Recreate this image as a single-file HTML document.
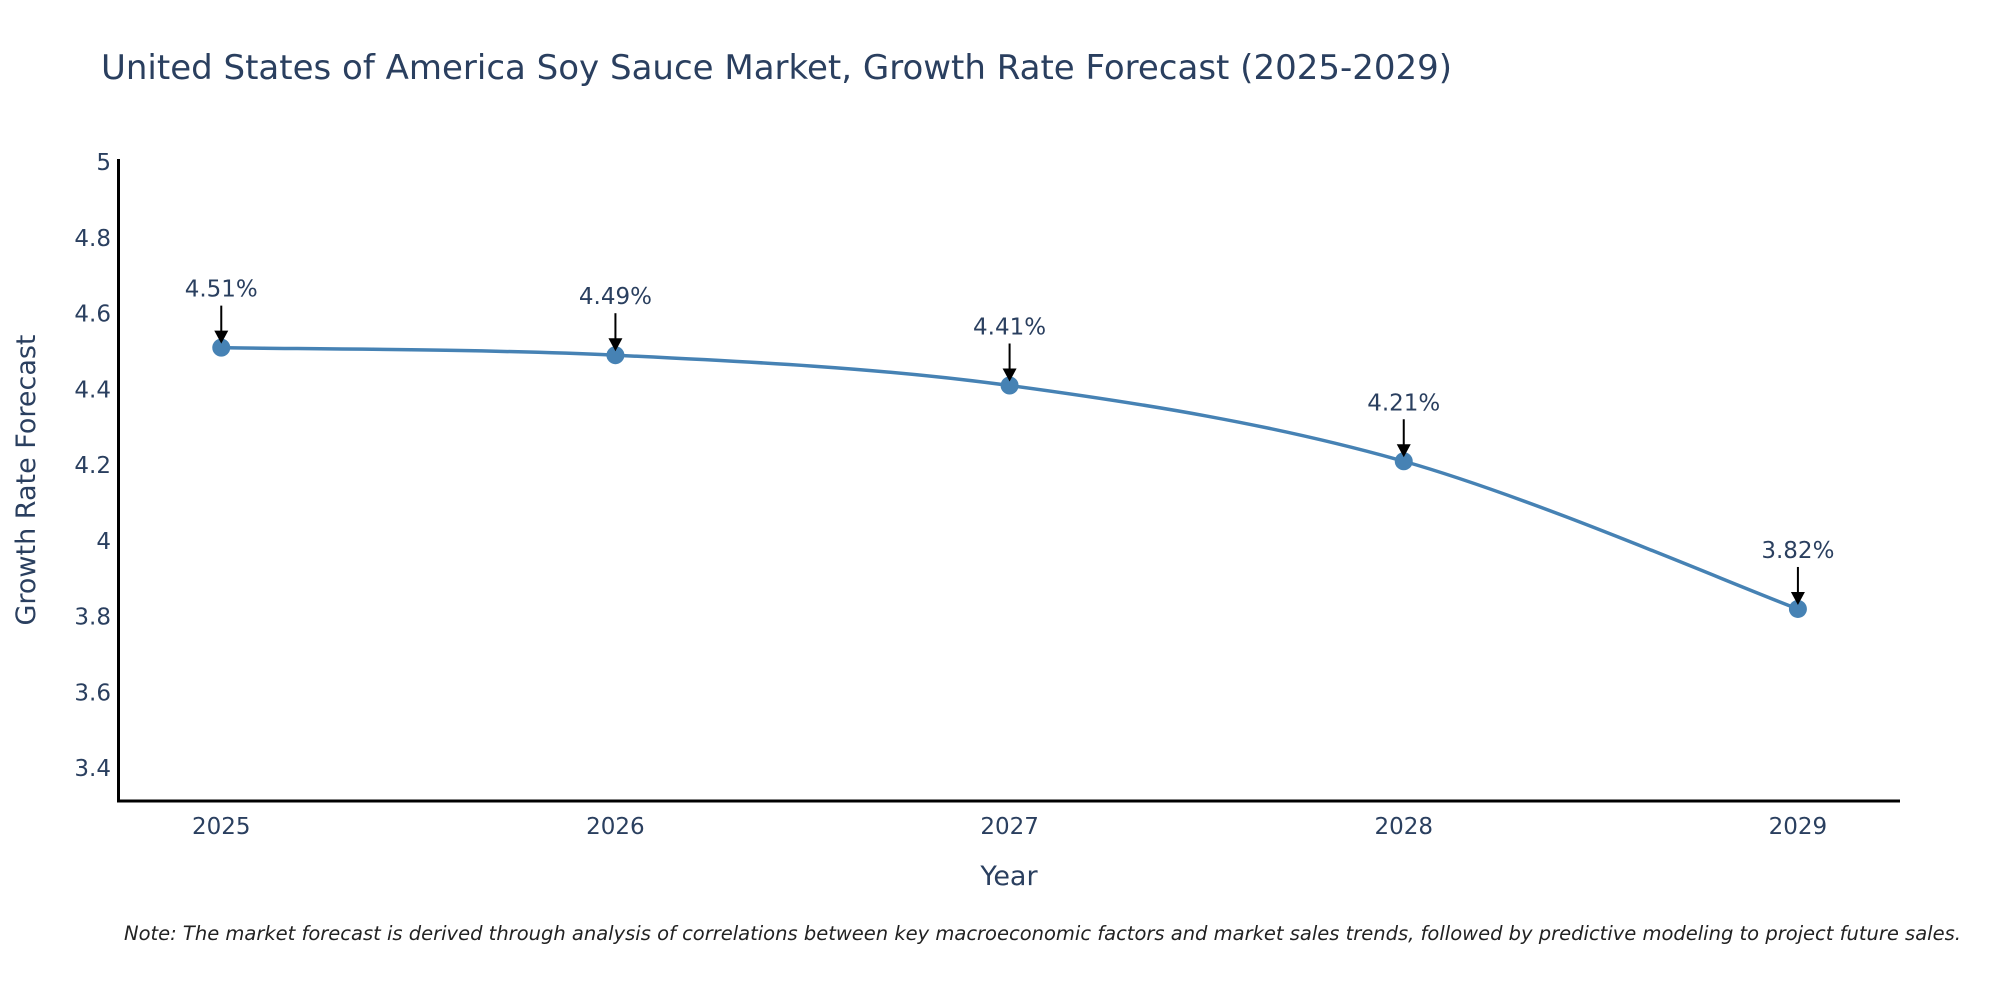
<!DOCTYPE html>
<html><head><meta charset="utf-8"><style>
html,body{margin:0;padding:0;background:#fff;}
svg text{font-family:"DejaVu Sans","Liberation Sans",sans-serif;fill:#2a3f5f;}
</style></head><body>
<svg id="chart" width="2000" height="1000" xmlns="http://www.w3.org/2000/svg">
<text x="101" y="79" font-size="34">United States of America Soy Sauce Market, Growth Rate Forecast (2025-2029)</text>
<g id="yticks"></g>
<g id="xticks"></g>
<line x1="118.5" y1="159" x2="118.5" y2="802" stroke="#000" stroke-width="3"/>
<line x1="117" y1="801" x2="1900" y2="801" stroke="#000" stroke-width="3"/>
<text transform="translate(35,480) rotate(-90)" text-anchor="middle" font-size="27">Growth Rate Forecast</text>
<text x="1009" y="885" text-anchor="middle" font-size="27">Year</text>
<g id="series"></g>
<g id="annots"></g>
<text x="124" y="940" font-size="19.5" font-style="italic" style="fill:#222">Note: The market forecast is derived through analysis of correlations between key macroeconomic factors and market sales trends, followed by predictive modeling to project future sales.</text>
</svg>
<script>
const years = [2025, 2026, 2027, 2028, 2029];
const growth = [4.51, 4.49, 4.41, 4.21, 3.82];
const yTickValues = [3.4, 3.6, 3.8, 4, 4.2, 4.4, 4.6, 4.8, 5];
const yTickLabels = ["3.4", "3.6", "3.8", "4", "4.2", "4.4", "4.6", "4.8", "5"];
const NS = "http://www.w3.org/2000/svg";
const xMin = 2024.738, xMax = 2029.259, plotL = 118, plotR = 1900;
const yMin = 3.313, yMax = 5.008, plotT = 159, plotB = 801;
function xs(v){return plotL + (v - xMin) / (xMax - xMin) * (plotR - plotL);}
function ys(v){return plotB - (v - yMin) / (yMax - yMin) * (plotB - plotT);}
function mk(tag, attrs, parent){const e=document.createElementNS(NS,tag);for(const k in attrs)e.setAttribute(k,attrs[k]);parent.appendChild(e);return e;}
const yt = document.getElementById('yticks');
yTickValues.forEach((v,i)=>{
  const t = mk('text',{x:111,y:ys(v)+8,'text-anchor':'end','font-size':23},yt);
  
  
  t.textContent = yTickLabels[i];
});
const xt = document.getElementById('xticks');
years.forEach(v=>{
  const t = mk('text',{x:xs(v),y:834,'text-anchor':'middle','font-size':23},xt);
  
  
  t.textContent = String(v);
});
const pts = years.map((y,i)=>[xs(y), ys(growth[i])]);
let d = "M"+pts[0][0]+","+pts[0][1];
const s = 1/3;
for(let i=0;i<pts.length-1;i++){
  const p0 = pts[i-1]||pts[i], p1=pts[i], p2=pts[i+1], p3=pts[i+2]||pts[i+1];
  const c1=[p1[0]+(p2[0]-p0[0])*s/2, p1[1]+(p2[1]-p0[1])*s/2];
  const c2=[p2[0]-(p3[0]-p1[0])*s/2, p2[1]-(p3[1]-p1[1])*s/2];
  d += " C"+c1[0]+","+c1[1]+" "+c2[0]+","+c2[1]+" "+p2[0]+","+p2[1];
}
const sg = document.getElementById('series');
const line = mk('path',{d:d,fill:'none',stroke:'#4682b4','stroke-width':3.5},sg);


const an = document.getElementById('annots');
pts.forEach((p,i)=>{
  const c = mk('circle',{cx:p[0],cy:p[1],r:9,fill:'#4682b4'},sg);
  
  
  const a = mk('line',{x1:p[0],y1:p[1]-42,x2:p[0],y2:p[1]-14,stroke:'#000','stroke-width':2},an);
  
  
  const h = mk('polygon',{points:(p[0]-7)+","+(p[1]-17)+" "+(p[0]+7)+","+(p[1]-17)+" "+p[0]+","+(p[1]-4),fill:'#000'},an);
  
  
  const t = mk('text',{x:p[0],y:p[1]-51,'text-anchor':'middle','font-size':23},an);
  
  
  t.textContent = growth[i].toFixed(2)+"%";
});
</script>
</body></html>
